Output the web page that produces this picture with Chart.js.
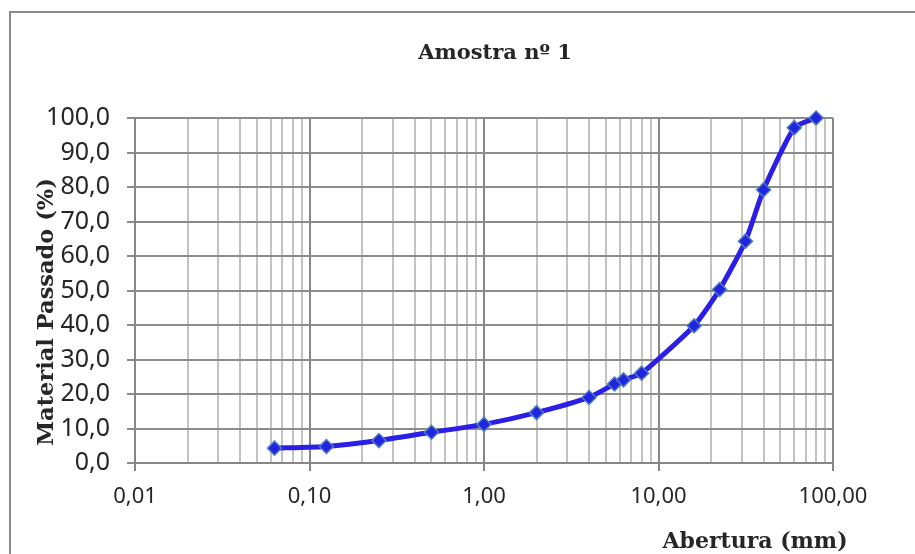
<!DOCTYPE html>
<html>
<head>
<meta charset="utf-8">
<script src="https://cdn.jsdelivr.net/npm/chart.js@4/dist/chart.umd.min.js"></script>
<style>
  html, body { margin: 0; padding: 0; background: #ffffff; }
  #wrap { width: 915px; height: 554px; position: relative; }
</style>
</head>
<body>
<div id="wrap"><canvas id="c" width="915" height="554"></canvas></div>
<script>
// ---- data ----
const chartTitle = 'Amostra nº 1';
const xAxisTitle = 'Abertura (mm)';
const yAxisTitle = 'Material Passado (%)';
const sieveSizes = [0.063, 0.125, 0.25, 0.5, 1.0, 2.0, 4.0, 5.6, 6.3, 8.0, 16.0, 22.4, 31.5, 40.0, 60.0, 80.0];
const passing    = [4.3, 4.8, 6.5, 8.9, 11.2, 14.6, 19.0, 22.9, 24.1, 26.0, 39.8, 50.3, 64.3, 79.2, 97.2, 100.0];
const xDecades    = [0.01, 0.1, 1, 10, 100];
const xTickLabels = ['0,01', '0,10', '1,00', '10,00', '100,00'];
const yTickValues = [0, 10, 20, 30, 40, 50, 60, 70, 80, 90, 100];
const yTickLabels = ['0,0', '10,0', '20,0', '30,0', '40,0', '50,0', '60,0', '70,0', '80,0', '90,0', '100,0'];

const points = sieveSizes.map((s, i) => ({ x: s, y: passing[i] }));

function isDecade(v) {
  return xDecades.some(d => Math.abs(Math.log10(v) - Math.log10(d)) < 1e-9);
}
function decadeLabel(v) {
  const i = xDecades.findIndex(d => Math.abs(Math.log10(v) - Math.log10(d)) < 1e-9);
  return i >= 0 ? xTickLabels[i] : '';
}

const decorPlugin = {
  id: 'decor',
  beforeDraw(chart) {
    const ctx = chart.ctx;
    ctx.save();
    ctx.fillStyle = '#ffffff';
    ctx.fillRect(0, 0, chart.width, chart.height);
    ctx.restore();
  },
  afterDraw(chart) {
    const ctx = chart.ctx;
    ctx.save();
    // outer frame (left and top edges visible)
    ctx.strokeStyle = '#8a8a8a';
    ctx.lineWidth = 2;
    ctx.beginPath();
    ctx.moveTo(10, 560);
    ctx.lineTo(10, 12);
    ctx.lineTo(920, 12);
    ctx.stroke();

    ctx.fillStyle = '#262626';
    ctx.textBaseline = 'alphabetic';
    ctx.textAlign = 'center';
    // chart title
    ctx.font = 'bold 21px "DejaVu Serif"';
    ctx.fillText(chartTitle, 495, 59);
    // x axis title
    ctx.font = 'bold 22px "DejaVu Serif"';
    ctx.fillText(xAxisTitle, 755, 548);
    // y axis title
    ctx.font = 'bold 22.5px "DejaVu Serif"';
    ctx.translate(53, 312);
    ctx.rotate(-Math.PI / 2);
    ctx.fillText(yAxisTitle, 0, 0);
    ctx.restore();
  }
};

new Chart(document.getElementById('c'), {
  type: 'scatter',
  data: {
    datasets: [{
      data: points,
      showLine: true,
      borderColor: '#2b1fe6',
      borderWidth: 5,
      tension: 0.18,
      pointStyle: 'rectRot',
      pointRadius: 7,
      pointBackgroundColor: '#2323e2',
      pointBorderColor: '#4a7ebb',
      pointBorderWidth: 1.5,
      clip: false
    }]
  },
  options: {
    responsive: false,
    animation: false,
    devicePixelRatio: 1,
    layout: { padding: { left: 0, top: 118, right: 82, bottom: 0 } },
    plugins: {
      legend: { display: false },
      tooltip: { enabled: false },
      title: { display: false }
    },
    scales: {
      x: {
        type: 'logarithmic',
        min: 0.01,
        max: 100,
        afterBuildTicks(scale) {
          const vals = [];
          for (let e = -2; e <= 1; e++) {
            for (let m = 1; m <= 9; m++) vals.push(m * Math.pow(10, e));
          }
          vals.push(100);
          scale.ticks = vals.map(v => ({ value: v, major: isDecade(v) }));
        },
        afterFit(scale) { scale.height = 554 - 463; },
        ticks: {
          autoSkip: false,
          maxRotation: 0,
          minRotation: 0,
          padding: 13,
          color: '#262626',
          font: { family: '"Noto Sans"', size: 22 },
          callback: (v) => decadeLabel(v)
        },
        grid: {
          drawTicks: true,
          tickLength: 8,
          lineWidth: 2,
          color: (c) => (c.tick && isDecade(c.tick.value)) ? '#868686' : '#c3c3c3',
          tickColor: (c) => (c.tick && isDecade(c.tick.value)) ? '#868686' : 'rgba(0,0,0,0)'
        },
        border: { display: true, color: '#868686', width: 2 }
      },
      y: {
        min: 0,
        max: 100,
        afterBuildTicks(scale) {
          scale.ticks = yTickValues.map(v => ({ value: v }));
        },
        afterFit(scale) { scale.width = 135; },
        ticks: {
          autoSkip: false,
          padding: 17,
          color: '#262626',
          font: { family: '"Noto Sans"', size: 25 },
          callback: (v, i) => yTickLabels[i]
        },
        grid: {
          drawTicks: true,
          tickLength: 8,
          lineWidth: 2,
          color: '#8c8c8c',
          tickColor: '#8c8c8c'
        },
        border: { display: true, color: '#868686', width: 2 }
      }
    }
  },
  plugins: [decorPlugin]
});
</script>
</body>
</html>
